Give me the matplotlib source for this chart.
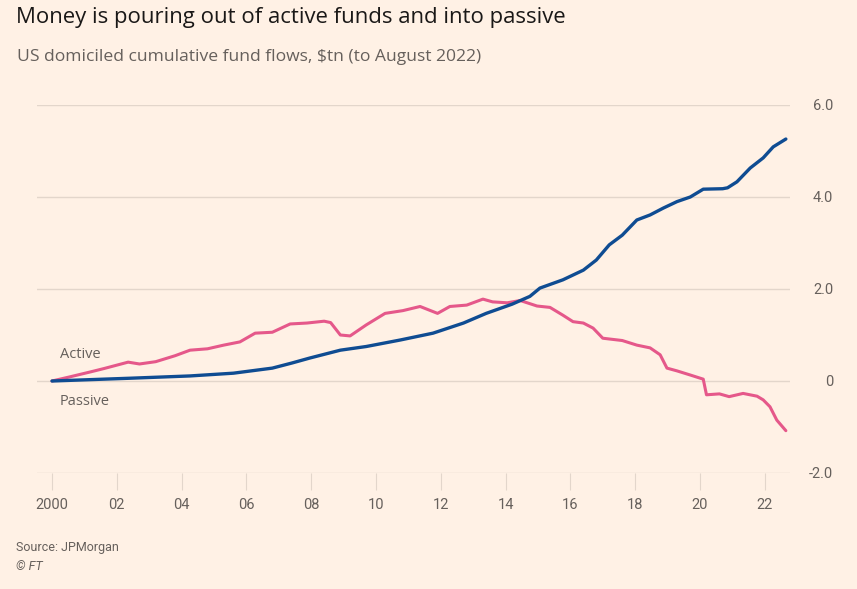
import matplotlib.pyplot as plt

# Cumulative fund flows, $tn
active_x = [2000.0, 2000.55, 2001.2, 2001.6, 2002.35, 2002.7, 2003.2, 2003.8, 2004.26, 2004.8,
            2005.3, 2005.8, 2006.27, 2006.8, 2007.35, 2007.87, 2008.4, 2008.6, 2008.9, 2009.2,
            2009.7, 2010.28, 2010.83, 2011.36, 2011.9, 2012.28, 2012.8, 2013.3, 2013.6, 2014.05,
            2014.45, 2014.97, 2015.37, 2015.77, 2016.08, 2016.4, 2016.7, 2017.0, 2017.6, 2018.05,
            2018.46, 2018.77, 2018.98, 2019.29, 2019.7, 2020.1, 2020.2, 2020.6, 2020.9, 2021.33,
            2021.76, 2021.95, 2022.16, 2022.37, 2022.65]
active_y = [0.0, 0.09, 0.20, 0.27, 0.41, 0.37, 0.42, 0.55, 0.67, 0.70,
            0.78, 0.85, 1.04, 1.06, 1.24, 1.26, 1.30, 1.27, 1.00, 0.98,
            1.22, 1.47, 1.53, 1.62, 1.47, 1.62, 1.65, 1.78, 1.72, 1.70,
            1.75, 1.63, 1.60, 1.43, 1.29, 1.26, 1.15, 0.93, 0.88, 0.78,
            0.72, 0.57, 0.28, 0.22, 0.13, 0.04, -0.30, -0.28, -0.34, -0.27,
            -0.33, -0.41, -0.56, -0.85, -1.08]

passive_x = [2000.0, 2002.4, 2004.26, 2005.6, 2006.8, 2007.4, 2007.96, 2008.9, 2009.7, 2010.74,
             2011.76, 2012.7, 2013.4, 2014.2, 2014.75, 2015.06, 2015.77, 2016.4, 2016.8, 2017.2,
             2017.6, 2018.05, 2018.46, 2018.87, 2019.29, 2019.7, 2020.1, 2020.7, 2020.85, 2021.14,
             2021.55, 2021.95, 2022.26, 2022.65]
passive_y = [0.0, 0.06, 0.11, 0.17, 0.28, 0.39, 0.50, 0.67, 0.75, 0.89,
             1.04, 1.26, 1.47, 1.67, 1.84, 2.02, 2.20, 2.41, 2.63, 2.96,
             3.17, 3.50, 3.61, 3.76, 3.90, 4.00, 4.17, 4.18, 4.20, 4.33,
             4.63, 4.85, 5.09, 5.26]

x_ticks = [2000, 2002, 2004, 2006, 2008, 2010, 2012, 2014, 2016, 2018, 2020, 2022]
x_labels = ['2000', '02', '04', '06', '08', '10', '12', '14', '16', '18', '20', '22']
y_ticks = [-2, 0, 2, 4, 6]
y_labels = ['-2.0', '0', '2.0', '4.0', '6.0']

bg = '#FFF1E5'
grey = '#66605C'
grid = '#E3D6CB'

plt.rcParams['font.family'] = ['Open Sans', 'DejaVu Sans']

fig = plt.figure(figsize=(8.57, 5.89), dpi=100, facecolor=bg)
ax = fig.add_axes([37 / 857, 1 - 473 / 589, 753 / 857, 368 / 589], facecolor=bg)

ax.plot(active_x, active_y, color='#E5588A', lw=2.2, solid_capstyle='round', zorder=3)
ax.plot(passive_x, passive_y, color='#0F4C92', lw=2.4, solid_capstyle='round', zorder=4)

ax.set_xlim(2000 - 15 / 32.4, 2000 + 738 / 32.4)
ax.set_ylim(-2, 6)
ax.set_xticks(x_ticks)
ax.set_xticklabels(x_labels, fontsize=10.5, color=grey, family=['Roboto', 'DejaVu Sans'])
ax.yaxis.tick_right()
ax.tick_params(axis='y', length=0, pad=31)
ax.tick_params(axis='x', length=12, width=0.8, color=grid, pad=6)
ax.set_yticks(y_ticks)
ax.set_yticklabels(y_labels, fontsize=10.5, color=grey, ha='right',
                   family=['Roboto', 'DejaVu Sans'])
ax.grid(axis='y', color=grid, lw=1)
for s in ax.spines.values():
    s.set_visible(False)

ax.text(2000.25, 0.50, 'Active', fontsize=10.5, color=grey)
ax.text(2000.25, -0.53, 'Passive', fontsize=10.5, color=grey)

fig.text(16 / 857, 1 - 18 / 589, 'Money is pouring out of active funds and into passive',
         fontsize=15.9, color='#1A1817', va='center')
fig.text(17 / 857, 1 - 57 / 589, 'US domiciled cumulative fund flows, $tn (to August 2022)',
         fontsize=12.6, color=grey, va='center')
fig.text(16 / 857, 1 - 547 / 589, 'Source: JPMorgan', fontsize=9, color=grey, va='center',
         family=['Roboto', 'DejaVu Sans'])
fig.text(16 / 857, 1 - 566 / 589, '© FT', fontsize=9, color=grey, va='center', style='italic',
         family=['Roboto', 'DejaVu Sans'])

fig.savefig('out.png', dpi=100, facecolor=bg)
